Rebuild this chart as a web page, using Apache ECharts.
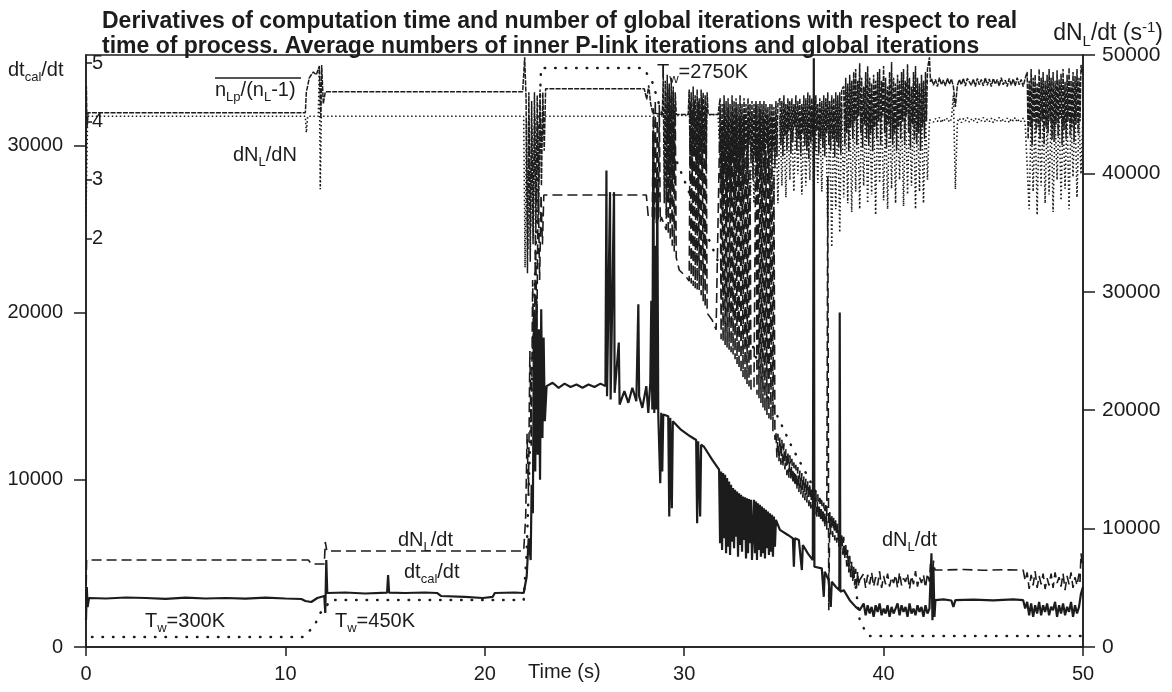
<!DOCTYPE html>
<html>
<head>
<meta charset="utf-8">
<script src="https://cdn.jsdelivr.net/npm/echarts@6/dist/echarts.min.js"></script>
<style>
  html, body { margin: 0; padding: 0; background: #fff; }
  #main { width: 1172px; height: 692px; }
</style>
</head>
<body>
<div id="main"></div>
<script>
/* data, time in s */
// dt_cal/dt (solid) - left outer scale
var dtcalA = [[0,1615],[0.04,3590],[0.08,2390],[0.15,2930],[1,2900],[2,2960],[3,2930],[4,2880],[5,2950],[6,2900],[7,2930],[8,2890],[9,2950],[10,2900],[10.8,2870],[11,2750],[11.3,2690],[11.6,2930],[11.95,3050],[12,2030],[12.05,5200],[12.1,3230],[13,3260],[14,3200],[15.1,3250],[15.15,4300],[15.2,3250],[16,3230],[17,3260],[17.6,3230],[17.8,3050],[19,3000],[19.9,2930],[20.4,3000],[20.5,3230],[21.5,3260],[21.95,3230],[22.1,4200],[22.2,6500],[22.3,5200]];
var dtcalZig1 = [9700,8000,20000,10500,20700,11500,19000,10000,20200,12500,18500,13500];
var dtcalB = [[23.1,15600],[23.4,15800],[23.7,15500],[24,15750],[24.3,15550],[24.6,15700],[24.9,15500],[25.2,15700],[25.5,15550],[25.8,15750],[26.05,15600],[26.1,28500],[26.13,15000],[26.28,27200],[26.31,14800],[26.48,27200],[26.51,15200],[26.72,18200],[26.76,14500],[27,15300],[27.2,14600],[27.4,15500],[27.6,14700],[27.7,20500],[27.74,15000],[27.9,14300],[28.1,15600],[28.2,14000],[28.3,15800]];
var dtcalZig2 = [20700,14200,30900,14000,24000,14200,28000,13900,14000,9800,14000,10500,13900];
var dtcalC = [[29.2,13800],[29.25,7800],[29.3,13700],[29.38,8300],[29.43,13500],[29.85,12980],[30.3,12600],[30.6,12380],[30.65,7400],[30.7,12300],[30.8,7800],[30.85,12100],[31,11960],[31.4,11200],[31.75,10600]];
var dtcalZig3 = [6200,10500,5800,10400,6500,10300,5600,10100,6000,9900,5500,9700,6300,9500,5900,9400,6600,9300,5400,9200,6100,9100,5700,9000,6400,8950,5300,8900,5600,8850,6200,8800,5200];
var dtcalZig4 = [8800,5600,8700,5200,8600,5800,8500,5400,8400,5600,8300,5300,8200,5900,8100,5500,8000,5700,7900,5400,7800,6000,7600];
var dtcalD = [[34.8,7000],[35.2,6700],[35.45,6500],[35.5,4800],[35.55,6500],[35.75,6400],[35.9,4600],[35.95,6100],[36.2,5600],[36.45,5200],[36.5,35200],[36.53,4800],[36.9,4700],[37,3000],[37.05,4500],[37.24,4000],[37.35,2400],[37.4,3900],[37.6,3600],[37.78,3400],[37.8,20000],[37.83,3300],[38,3400],[38.3,2800],[38.6,2400],[38.8,2200]];
var dtcalZig5 = [2600,1900,2500,2000,2400,1800,2500,2100,2600,1900,2300,2000,2500,1800,2400,2000,2300,2600,1900,2500,2100,2400,1800,2600,2000,2300,1900,2500,2100,2400,1800,2500,2000,2300];
var dtcalE = [[42.4,5600],[42.45,1600],[42.5,4800],[42.55,1800],[42.6,2800],[43,2850],[43.4,2780],[43.5,2390],[43.6,2800],[44.5,2830],[45.5,2790],[46.5,2850],[47,2800]];
var dtcalZig6 = [2300,2700,1900,2600,1800,2500,2000,2700,1900,2500,2100,2600,1900,2400,2200,2700,1800,2500,2000,2600,1900,2400,2100,2700,1800,2500,2000,2400];
var dtcalF = [[49.9,3200],[50,3600]];

// dN_L/dt (dashed) - right scale, s^-1
var dndtA = [[0,3970],[0.03,7350],[11.15,7350],[11.3,7010],[11.95,7010],[12,8870],[12.08,8110],[21.95,8110]];
var dndtZig1 = [11000,18000,13000,25000,17000,31000,22000,35000,27000,38500,31000,38200,34000,38180];
var dndtB = [[28.1,38180],[28.2,36320],[28.4,36320]];
var dndtZig2 = [45500,36000,46200,35800,44500,36100,45800,35900,36320];
var dndtC = [[29.1,35220]];
var dndtZig3 = [46800,34800,47200,34300,46500,33900,47000,33400,45800,32900];
var dndtD = [[29.75,31840],[30.1,31250],[30.25,30900]];
var dndtZig4 = [46000,30700,45200,30500,46300,30300,44800,30200,46100,30150,45000,29700,46400,29200,44000,28700,45600,28200];
var dndtE = [[31.4,27620],[31.6,26800]];
var dndtZig5 = [45500,26000,44000,25800,46000,25500,43500,25300,45800,25100,42800,24900,45200,24700,44000,24300,45600,23900,42500,23500,44800,23100,43000,22800,45000,22500,41500,22200,43800,22000,40500,21800];
var dndtF = [[33.5,21710]];
var dndtZig6 = [45900,21300,43500,21000,45500,20600,42800,20200,44600,19900,41800,19600,44000,19300,40500,19100,43200,18200,39800,17500];
var dndtZigG = [18200,16000,18000,15700,17700,15400,17500,15200,17200,15000,
	16700,14500,16500,14300,16200,14100,15900,13800,15600,13600,
	15400,13300,15200,13100,14900,12900,14700,12600,14400,12400,
	14200,12200,14000,11900,13800,11700,13500,11500,13300,11200,
	13100,11000,12900,10800,12600,10600,12400,10400,12200,10100,
	12000,9900,39700,3100,11400,9500,11200,9300,11000,9000,
	10800,8800,10400,8500,10000,8200,9600,7800,9300,7400,
	8700,6800,8200,6300,7700,5900,7200,5500,6800,5200,
	6600,5000,6400,5100,5660];
var dndtZig7 = [6200,5000,6100,5300,6300,5100,5900,5200,6400,5000,6000,5300,6200,5100,5900,5400,6100,5000,6300,5200,5800,5500,6200,4900,6000,5300,6400,5100,5900,5400,6100,5000,6200,5500];
var dndtH = [[42.35,7000],[42.42,4000],[42.5,7300],[42.58,6500],[43,6500],[44,6550],[45,6480],[46,6520],[47,6500]];
var dndtZig8 = [5600,6300,4900,6100,5200,6400,5000,6000,5300,6200,4900,5800,5200,6200,5000,6300,5400,5900,5100,6200,4800,6000,5300,6300,5000,5900,5200,6200];
var dndtI = [[49.85,5500],[49.9,7900],[50,6600]];

// wall temperature curve (dotted), drawn on the right scale
var twPts = [[0.3,845],[10.9,845],[11.15,1270],[11.45,1770],[11.75,2870],[12.1,3550],[12.25,3970],[21.95,3970],[22.1,8000],[22.25,16000],[22.4,25000],[22.55,33000],[22.7,43000],[22.82,48900],[27.95,48900],[28.4,47720],[29.6,41130],[30.4,37750],[31.4,33780],[32.4,29730],[33.4,25680],[34.1,21450],[34.77,19170],[35.4,16890],[36.1,14700],[36.9,12160],[37.6,9880],[38,8450],[38.4,6760],[38.6,5070],[38.8,2280],[39.1,1270],[39.3,930],[50,930]];

// n_Lp/(n_L-1) (fine dashed) - inner left scale
var nlpA = [[0,3.6],[0.02,4.6],[0.05,3.9],[0.1,4.15],[11,4.15],[11.05,4.5],[11.2,4.75],[11.4,4.85],[11.55,4.8],[11.7,4.95],[11.78,4.05],[11.82,4.97],[11.9,4.3],[12,4.51],[21.9,4.51]];
var nlpZig1 = [5.1,4.4,1.4,4.5,1.6,4.35,1.9,4.5,2.1,4.45,2.4,4.55,2.9,4.5,3.5,4.56];
var nlpB = [[28,4.56],[28.12,4.38],[28.22,4.62],[28.32,4.3],[28.42,4.15],[28.9,4.12]];
var nlpZig2 = [4.75,2.6,4.7,2.4,4.8,2.7,4.65,2.5,4.75,2.8,4.6,3.0,4.5,4.12];
var nlpC = [[30.2,4.12]];
var nlpZig3 = [4.55,3.2,4.5,2.9,4.6,3.4,4.45,3.1,4.55,2.5,4.4,3.3,4.55,3.0,4.5,3.5,4.45,3.2,4.5,4.12];
var nlpD = [[31.7,4.12]];
var nlpZig4 = [4.4,2.9,4.3,2.5,4.45,3.1,4.35,2.3,4.4,3.0,4.3,2.7,4.45,3.3,4.35,2.6,4.4,3.2,4.3,2.8,4.45,3.4,4.3,2.9,4.4,3.5,4.3,3.1,4.4,3.6,4.3,3.3,4.35,3.0,4.3,3.4,4.35,2.8,4.3,3.2,4.35,3.0,4.3,3.5,4.35,3.1,4.3,3.6,4.25,3.0,4.3,3.3,4.3,3.5,4.25,3.2,4.35,3.4,4.3];
var nlpZig5 = [4.4,3.6,4.35,3.4,4.45,3.75,4.3,3.5,4.4,3.85,4.35,3.45,4.4,3.65,4.3,3.9,4.45,3.5,4.35,3.7,
	4.4,3.4,4.3,3.8,4.45,3.6,4.4,3.5,4.5,3.35,4.45,3.65,4.4,3.75,4.35,3.5,4.45,3.85,4.3,3.45,
	4.4,3.7,4.35,3.55,4.45,3.4,4.4,3.8,4.5,3.6,4.35,3.5,4.45,3.7,4.4,3.4,4.5,3.65,4.45,3.55,4.5,3.45,4.55];
var nlpZig6 = [4.6,3.6,4.75,3.8,4.65,3.5,4.8,3.9,4.7,3.7,4.85,4.0,4.9,3.6,4.7,4.1,5.0,3.8,4.75,3.55,
	4.6,3.95,4.85,3.7,4.95,3.6,4.75,3.8,4.65,3.5,4.8,3.9,4.7,3.7,4.85,4.0,4.9,3.6,4.7,4.1,
	4.95,3.8,4.75,3.55,4.6,3.95,4.85,3.7,5.02,3.6,4.75,3.8,4.65,3.5,4.8,3.9,4.7,3.7,4.85,4.0,
	4.9,3.6,4.7,4.1,4.98,3.8,4.75,3.55,4.6,3.95,4.85,3.7,4.95,3.6,4.75,3.8,4.65,3.5,4.8,3.9,
	4.7,3.7,4.85,4.0,4.9];
var nlpE = [[42.3,5.1],[42.35,4.68]];
var nlpZigE = [4.74,4.62,4.72,4.6,4.75,4.63,4.71,4.61,4.74,4.64,4.73,4.6,4.25,4.62,4.72,4.63,4.74,4.61,4.74,4.75,
	4.62,4.73,4.6,4.74,4.63,4.72,4.61,4.75,4.62,4.73,4.6,4.74,4.64,4.72,4.61,4.75,4.63,4.71,4.6,4.74,
	4.62,4.73,4.61,4.75,4.63,4.72,4.6,4.74];
var nlpZig7 = [4.85,3.7,4.7,3.9,4.9,3.6,4.75,4.0,4.8,3.8,4.65,3.9,4.9,3.7,4.75,4.0,4.85,3.6,4.7,3.9,
	4.8,3.8,4.9,4.0,4.75,3.7,4.85,3.65,4.7,3.95,4.88,3.75,4.72,4.05,4.82,3.6,4.9,3.85,4.68,3.7,
	4.8,4.0,4.92,3.75,4.7,3.9,4.85,3.65,4.78,3.95,4.9,3.8,4.75,4.0,4.97];
var nlpF = [[50,4.8]];

// dN_L/dN (dotted) - inner left scale
var dnA = [[0,2.38],[0.08,4.09],[11,4.09],[11.05,3.81],[11.12,4.09],[11.65,4.09],[11.7,4.94],[11.75,2.84],[11.8,4.09],[21.95,4.09]];
var dnZig1 = [1.5,4.0,1.8,4.1,2.2,3.9,2.0,4.1,2.6,4.0,3.0,4.1,3.6,4.09];
var dnB = [[28.3,4.09],[31.7,4.12]];
var dnZig2 = [4.1,2.6,4.05,2.3,4.1,2.8,4.0,2.4,4.1,2.9,4.05,2.5,4.1,2.7,4.0,2.3,4.1,2.6,4.05,2.8,4.1,2.4,4.0,2.9,4.1,2.5,4.05,2.7,4.1,2.6];
var dnZig3 = [4.1,2.9,4.05,2.7,4.1,3.0,4.0,2.8,4.1,3.1,4.05,2.75,4.1,2.9,4.0,3.0,4.1,2.7,4.05,2.95,4.1,2.8,4.05];
var dnZig4 = [4.2,2.2,4.15,1.85,4.25,2.5,4.2,2.1,4.3,2.7,4.15,2.6,4.25,2.45,4.2,2.8,4.3,2.5,4.15,2.9,
	4.25,2.6,4.2,2.75,4.3,2.4,4.15,2.95,4.25,2.65,4.2,2.5,4.3,2.85,4.15,2.6,4.25,3.0,4.2,2.55,
	4.3,2.75,4.15,2.9,4.25,2.5,4.2,2.8,4.3,2.6,4.15,3.0];
var dnC = [[42.3,4.03]];
var dnZigC = [4.06,3.99,4.05,4.0,4.07,3.98,4.05,4.01,4.06,3.99,4.04,4.45,2.84,4.0,4.06,3.98,4.05,4.01,4.07,3.99,
	4.04,4.0,4.06,3.98,4.05,4.01,4.07,3.99,4.04,4.0,4.06,3.98,4.05,4.01,4.07,3.99,4.04,4.0,4.06,3.98,
	4.05,4.01,4.07,3.99,4.04,4.0,4.06,3.98];
var dnZig5 = [2.5,4.1,2.8,4.15,2.4,4.1,2.9,4.2,2.6,4.1,2.75,4.15,2.45,4.1,3.0,4.2,2.65,4.1,2.85,4.15,2.5,4.1,3.05,4.2,2.7,4.1,3.1];
var dnD = [[50,4.1]];

var leftOuterTicks = [0, 10000, 20000, 30000];
var innerTicks = [2, 3, 4, 5];

// samples of a noisy stretch, taken at a fixed time step
function zig(t0, step, vals) {
	return vals.map(function(v, i) {
		return [Math.round((t0 + i * step) * 1000) / 1000, v];
	});
}

var dtcalData = [].concat(dtcalA, zig(22.35, 0.06, dtcalZig1), dtcalB, zig(28.35, 0.05, dtcalZig2), dtcalC,
	zig(31.8, 0.05, dtcalZig3), zig(33.5, 0.05, dtcalZig4), dtcalD, zig(39, 0.1, dtcalZig5), dtcalE,
	zig(47.1, 0.1, dtcalZig6), dtcalF);
var dndtData = [].concat(dndtA, zig(22.05, 0.07, dndtZig1), dndtB, zig(28.45, 0.05, dndtZig2), dndtC,
	zig(29.15, 0.05, dndtZig3), dndtD, zig(30.3, 0.05, dndtZig4), dndtE, zig(31.8, 0.05, dndtZig5), dndtF,
	zig(33.6, 0.05, dndtZig6), zig(34.6, 0.05, dndtZigG), zig(39, 0.1, dndtZig7), dndtH, zig(47.1, 0.1, dndtZig8), dndtI);
var nlpData = [].concat(nlpA, zig(22, 0.07, nlpZig1), nlpB, zig(28.95, 0.05, nlpZig2), nlpC,
	zig(30.25, 0.05, nlpZig3), nlpD, zig(31.8, 0.05, nlpZig4), zig(34.8, 0.05, nlpZig5), zig(38, 0.05, nlpZig6),
	nlpE, zig(42.4, 0.1, nlpZigE), zig(47.2, 0.05, nlpZig7), nlpF);
var dnData = [].concat(dnA, zig(22.02, 0.07, dnZig1), dnB, zig(31.8, 0.1, dnZig2), zig(34.8, 0.1, dnZig3),
	zig(37.1, 0.1, dnZig4), dnC, zig(42.4, 0.1, dnZigC), zig(47.3, 0.1, dnZig5), dnD);

var ink = '#1c1c1c';
var font = '"Liberation Sans", Arial, Helvetica, sans-serif';
var rich = {
	m: { fontSize: 20, fontFamily: font, color: ink },
	s: { fontSize: 13, fontFamily: font, color: ink, padding: [14, 0, 0, 0] },
	p: { fontSize: 13, fontFamily: font, color: ink, padding: [0, 0, 12, 0] },
	M: { fontSize: 23, fontFamily: font, color: ink },
	S: { fontSize: 15, fontFamily: font, color: ink, padding: [15, 0, 0, 0] },
	P: { fontSize: 15, fontFamily: font, color: ink, padding: [0, 0, 13, 0] }
};
function plain(v) { return String(v); }

function label(x, y, text, align) {
	return {
		type: 'text', x: x, y: y, silent: true,
		style: { text: text, rich: rich, align: align || 'left', verticalAlign: 'middle', fill: ink }
	};
}

var myChart = echarts.init(document.getElementById('main'));
var option = {
	animation: false,
	backgroundColor: '#fff',
	title: {
		text: 'Derivatives of computation time and number of global iterations with respect to real\ntime of process. Average numbers of inner P-link iterations and global iterations',
		left: 97, top: 4,
		textStyle: { fontFamily: font, fontSize: 23, fontWeight: 'bold', color: ink, lineHeight: 25 }
	},
	grid: { left: 86, right: 89, top: 55, bottom: 45, show: true, borderColor: ink, borderWidth: 1.5, backgroundColor: 'transparent' },
	xAxis: {
		type: 'value', min: 0, max: 50, interval: 10,
		axisLine: { onZero: false, lineStyle: { color: ink, width: 1.5 } },
		axisTick: { length: 9, lineStyle: { color: ink, width: 1.5 } },
		axisLabel: { fontFamily: font, fontSize: 20, color: ink, margin: 17, formatter: plain },
		splitLine: { show: false }
	},
	yAxis: [{
		// dN_L/dt (s^-1)
		type: 'value', position: 'right', min: 0, max: 50000, interval: 10000,
		axisLine: { show: true, onZero: false, lineStyle: { color: ink, width: 1.5 } },
		axisTick: { show: true, length: 12, lineStyle: { color: ink, width: 1.5 } },
		axisLabel: { fontFamily: font, fontSize: 21, color: ink, margin: 19, formatter: plain },
		splitLine: { show: false }
	}, {
		// dt_cal/dt
		type: 'value', position: 'left', min: 0, max: 35400,
		axisLine: { show: true, onZero: false, lineStyle: { color: ink, width: 1.5 } },
		axisTick: { show: true, length: 12, customValues: leftOuterTicks, lineStyle: { color: ink, width: 1.5 } },
		axisLabel: { fontFamily: font, fontSize: 20, color: ink, margin: 23, customValues: leftOuterTicks, formatter: plain },
		splitLine: { show: false }
	}, {
		// average iteration numbers
		type: 'value', position: 'left', min: -5, max: 5.14,
		axisLine: { show: false, onZero: false },
		axisTick: { show: true, inside: true, length: 6, customValues: innerTicks, lineStyle: { color: ink, width: 1.5 } },
		axisLabel: { inside: true, fontFamily: font, fontSize: 20, color: ink, margin: 6, customValues: innerTicks, formatter: plain },
		splitLine: { show: false }
	}],
	graphic: [
		label(8, 70, '{m|dt}{s|cal}{m|/dt}'),
		label(1163, 34, '{M|dN}{S|L}{M|/dt (s}{P|-1}{M|)}', 'right'),
		label(215, 90, '{m|n}{s|Lp}{m|/(n}{s|L}{m|-1)}'),
		label(233, 155, '{m|dN}{s|L}{m|/dN}'),
		label(657, 72, '{m|T}{s|w}{m|=2750K}'),
		label(398, 540, '{m|dN}{s|L}{m|/dt}'),
		label(404, 572, '{m|dt}{s|cal}{m|/dt}'),
		label(145, 621, '{m|T}{s|w}{m|=300K}'),
		label(335, 621, '{m|T}{s|w}{m|=450K}'),
		label(882, 540, '{m|dN}{s|L}{m|/dt}'),
		{
			type: 'text', x: 528, y: 672, silent: true,
			style: { text: 'Time (s)', font: '20px ' + font, fill: ink, verticalAlign: 'middle' }
		},
		{
			type: 'line', silent: true,
			shape: { x1: 215, y1: 78, x2: 301, y2: 78 },
			style: { stroke: ink, lineWidth: 1.5 }
		}
	],
	series: [{
		name: 'T_w', type: 'line', yAxisIndex: 0, data: twPts,
		showSymbol: false, symbol: 'none',
		lineStyle: { color: ink, width: 2.5, type: [0.5, 10], cap: 'round' }
	}, {
		name: 'dN_L/dN', type: 'line', yAxisIndex: 2, data: dnData,
		showSymbol: false, symbol: 'none',
		lineStyle: { color: ink, width: 1.6, type: [1.5, 2.5] }
	}, {
		name: 'n_Lp/(n_L-1)', type: 'line', yAxisIndex: 2, data: nlpData,
		showSymbol: false, symbol: 'none',
		lineStyle: { color: ink, width: 1.5, type: [5, 1.2] }
	}, {
		name: 'dN_L/dt', type: 'line', yAxisIndex: 0, data: dndtData,
		showSymbol: false, symbol: 'none',
		lineStyle: { color: ink, width: 1.6, type: [10, 5] }
	}, {
		name: 'dt_cal/dt', type: 'line', yAxisIndex: 1, data: dtcalData,
		showSymbol: false, symbol: 'none',
		lineStyle: { color: ink, width: 2.2 }
	}]
};
myChart.setOption(option);
</script>
</body>
</html>
